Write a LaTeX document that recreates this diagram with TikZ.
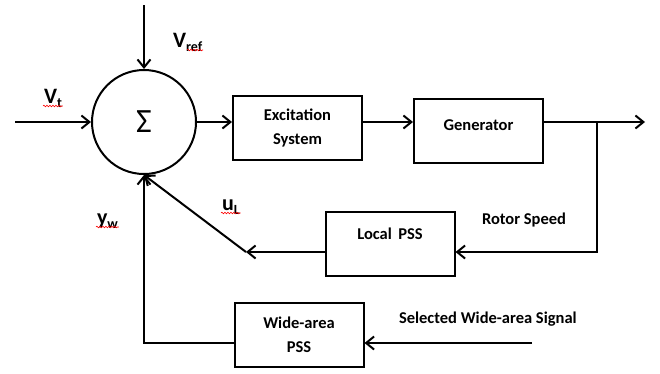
\documentclass[tikz,border=0pt]{standalone}
\usepackage{fontspec}
\setmainfont{Carlito}
\usetikzlibrary{arrows.meta,positioning,decorations.pathmorphing}
\newcommand{\subtxt}[1]{\raisebox{-0.2em}{\fontsize{14}{14}\selectfont #1}}

\begin{document}
\begin{tikzpicture}[x=1pt,y=-1pt,line width=2pt,>={Straight Barb[length=8pt,width=13pt]}]
  \tikzset{
    block/.style={draw, minimum width=129pt, minimum height=64pt, align=center,
      font=\bfseries\fontsize{16.5}{24}\selectfont},
    sumnode/.style={draw, circle, minimum size=104pt, inner sep=0pt},
    sig/.style={font=\bfseries\fontsize{22}{24}\selectfont, inner sep=0pt},
    lbl/.style={font=\bfseries\fontsize{16.5}{20}\selectfont, inner sep=0pt},
    spell/.style={draw=red, line width=0.6pt, decorate,
      decoration={snake, amplitude=0.8pt, segment length=3pt}}
  }
  \useasboundingbox (0,0) rectangle (660,373);

  			\node[sumnode] (sum) at (144,122) {\raisebox{-4pt}{\fontsize{34}{34}\selectfont Σ}};
  			\node[block]   (exc) [right=35pt of sum, yshift=-6pt]   {Excitation\\System};
            \node[block, text depth=11pt] (gen) [right=50pt of exc, yshift=-2.5pt] {Generator};
            \node[block, text depth=20pt] (lpss) [below=47pt of gen, xshift=-88.5pt] {Local\, PSS};
            \node[block]   (wide) [below=141pt of exc, xshift=1.5pt] {Wide-area\\PSS};

            \coordinate (vin) at (15,122);
            \coordinate (vtop) at (144,5);
            \coordinate (tap) at (597,122);
            \coordinate (out) at (645,122);
            \coordinate (tapdown) at (597,252);
            \coordinate (ulend) at (246,252);
            \coordinate (wsig) at (532,343);

            \node[sig, anchor=base west] (vt) at (43,103) {V\subtxt{t}};
            \node[sig, anchor=base west] (vref) at (172,47) {V\subtxt{ref}};
            \node[sig, anchor=base west] (ul) at (221,210) {u\subtxt{L}};
            \node[sig, anchor=base west] (yw) at (96,224) {y\subtxt{w}};
            \node[lbl, anchor=base west] (rotor) at (481,224) {Rotor Speed};
            \node[lbl, anchor=base west] (wasig) at (398,323) {Selected Wide-area Signal};

  			\draw[->] (vin) -- (sum);
            \draw[->] (vtop) -- (sum);
            \draw[->] (sum) -- (sum -| exc.west);
            \draw[->] (exc.east |- sum) -- (gen.west |- sum);
            \draw[->] (gen.east |- sum) -- (out);
            \draw[->] (tap) -- (tapdown) -- (tapdown -| lpss.east);
            \draw[->] (lpss.west |- ulend) -- (ulend);
            \draw[->] (ulend) -- (sum.south);
            \draw[->] (wsig) -- (wide.east |- wsig);
            \draw[->] (wide.west |- wsig) -- (sum.south |- wsig) -- (sum.south);

            \path[spell] ([yshift=-3pt]vt.base west) -- ([yshift=-3pt]vt.base east);
            \path[spell] ([yshift=-3pt,xshift=15pt]vref.base west) -- ([yshift=-3pt]vref.base east);
            \path[spell] ([yshift=-3pt]ul.base west) -- ([yshift=-3pt]ul.base east);
            \path[spell] ([yshift=-3pt]yw.base west) -- ([yshift=-3pt]yw.base east);
		\end{tikzpicture}
\end{document}
